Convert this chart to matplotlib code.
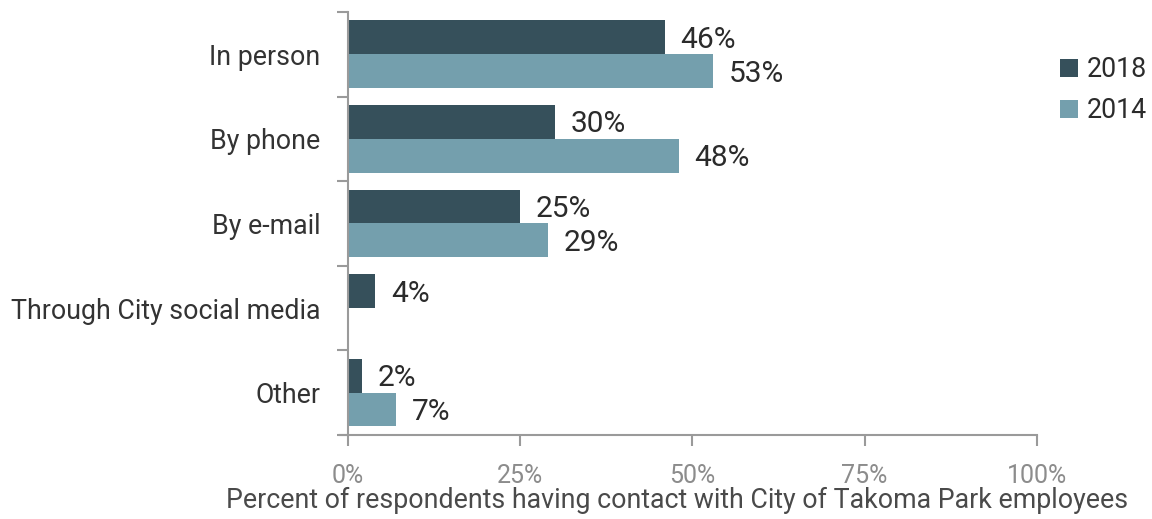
import matplotlib.pyplot as plt
import numpy as np

plt.rcParams['font.family'] = ['Roboto', 'DejaVu Sans']

categories = ['In person', 'By phone', 'By e-mail', 'Through City social media', 'Other']
vals_2018 = [46, 30, 25, 4, 2]
vals_2014 = [53, 48, 29, np.nan, 7]

c2018 = '#36505b'
c2014 = '#749fad'
axis_grey = '#9a9a9a'

fig = plt.figure(figsize=(11.52, 5.19), dpi=100)
ax = fig.add_axes([0.302, 0.162, 0.598, 0.815])

y = np.arange(len(categories))
h = 0.4
ax.barh(y - h / 2, vals_2018, height=h, color=c2018, label='2018')
ax.barh(y + h / 2, vals_2014, height=h, color=c2014, label='2014')

# value labels just past the bar ends
for yi, v in zip(y - h / 2, vals_2018):
    ax.text(v + 2.3, yi + 0.03, f'{v}%', va='center', ha='left', fontsize=21.5, color='#2b2b2b')
for yi, v in zip(y + h / 2, vals_2014):
    if np.isnan(v):
        continue
    ax.text(v + 2.3, yi + 0.03, f'{int(v)}%', va='center', ha='left', fontsize=21.5, color='#2b2b2b')

ax.set_xlim(0, 100)
ax.set_ylim(len(categories) - 0.5, -0.5)

ax.set_yticks(y)
ax.set_yticklabels(categories, fontsize=19.3, color='#333333')
ax.tick_params(axis='y', which='major', length=0, pad=20)
ax.set_yticks(np.arange(-0.5, len(categories)), minor=True)
ax.tick_params(axis='y', which='minor', length=8, width=1.5, color=axis_grey)

ax.set_xticks([0, 25, 50, 75, 100])
ax.set_xticklabels(['0%', '25%', '50%', '75%', '100%'], fontsize=18, color='#8c8c8c')
ax.tick_params(axis='x', length=8, width=1.5, color=axis_grey, pad=13)
ax.set_xlabel('Percent of respondents having contact with City of Takoma Park employees',
              fontsize=19.3, color='#4a4a4a')
ax.xaxis.set_label_coords(0.478, -0.122)

for side in ['top', 'right']:
    ax.spines[side].set_visible(False)
for side in ['left', 'bottom']:
    ax.spines[side].set_color(axis_grey)
    ax.spines[side].set_linewidth(1.5)
ax.spines['bottom'].set_bounds(-1.2, 100)

leg = ax.legend(loc='upper left', bbox_to_anchor=(1.033, 0.895), frameon=False,
                fontsize=19.3, handlelength=0.7, handleheight=0.7, handletextpad=0.3,
                labelspacing=0.52, borderaxespad=0, borderpad=0)
for t in leg.get_texts():
    t.set_color('#2b2b2b')

fig.savefig('out.png', dpi=100)
